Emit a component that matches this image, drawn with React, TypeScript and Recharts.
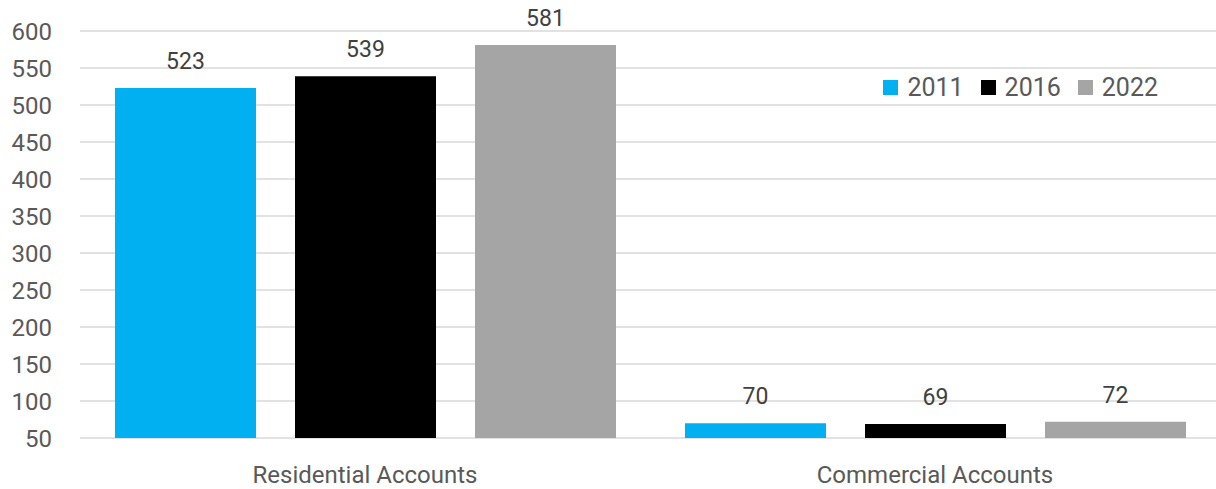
import { Bar, BarChart, CartesianGrid, LabelList, XAxis, YAxis } from "recharts";

const CATEGORIES = ["Residential Accounts", "Commercial Accounts"];
const SERIES_2011 = [523, 70];
const SERIES_2016 = [539, 69];
const SERIES_2022 = [581, 72];
const Y_TICKS = [50, 100, 150, 200, 250, 300, 350, 400, 450, 500, 550, 600];

const COLORS = {
  y2011: "#00B0F0",
  y2016: "#000000",
  y2022: "#A5A5A5",
  grid: "#D9D9D9",
  axisText: "#595959",
  label: "#404040",
};

const FONT = "Roboto, 'Noto Sans', sans-serif";

const data = CATEGORIES.map((name, i) => ({
  name,
  "2011": SERIES_2011[i],
  "2016": SERIES_2016[i],
  "2022": SERIES_2022[i],
}));

const LEGEND_ITEMS = [
  { key: "2011", color: COLORS.y2011 },
  { key: "2016", color: COLORS.y2016 },
  { key: "2022", color: COLORS.y2022 },
];

function ChartLegend() {
  return (
    <div
      style={{
        position: "absolute",
        top: 73,
        right: 58,
        display: "flex",
        alignItems: "center",
        fontFamily: FONT,
        fontSize: 25,
        color: COLORS.axisText,
      }}
    >
      {LEGEND_ITEMS.map((item) => (
        <div key={item.key} style={{ display: "flex", alignItems: "center", marginLeft: 17 }}>
          <span style={{ width: 15, height: 15, background: item.color, display: "inline-block", marginRight: 9 }} />
          <span>{item.key}</span>
        </div>
      ))}
    </div>
  );
}

function XTick({ x, y, payload }: any) {
  return (
    <text x={x} y={y + 37} textAnchor="middle" fill={COLORS.axisText} fontFamily={FONT} fontSize={24}>
      {payload.value}
    </text>
  );
}

export default function App() {
  return (
    <div
      style={{
        position: "absolute",
        left: 0,
        top: 0,
        width: 1216,
        height: 489,
        overflow: "hidden",
        background: "#fff",
      }}
    >
      <BarChart
        width={1220}
        height={489}
        data={data}
        margin={{ top: 31, right: 0, left: 0, bottom: 0 }}
        barSize={141}
        barGap={39}
      >
        <CartesianGrid vertical={false} stroke={COLORS.grid} strokeWidth={1.5} />
        <XAxis dataKey="name" height={51} axisLine={false} tickLine={false} tick={<XTick />} interval={0} />
        <YAxis
          width={80}
          domain={[50, 600]}
          ticks={Y_TICKS}
          axisLine={false}
          tickLine={false}
          tick={{ fill: COLORS.axisText, fontSize: 24, fontFamily: FONT }}
          tickMargin={22}
        />
        <Bar dataKey="2011" fill={COLORS.y2011} isAnimationActive={false}>
          <LabelList dataKey="2011" position="top" offset={19} fill={COLORS.label} fontSize={23} fontFamily={FONT} />
        </Bar>
        <Bar dataKey="2016" fill={COLORS.y2016} isAnimationActive={false}>
          <LabelList dataKey="2016" position="top" offset={19} fill={COLORS.label} fontSize={23} fontFamily={FONT} />
        </Bar>
        <Bar dataKey="2022" fill={COLORS.y2022} isAnimationActive={false}>
          <LabelList dataKey="2022" position="top" offset={19} fill={COLORS.label} fontSize={23} fontFamily={FONT} />
        </Bar>
      </BarChart>
      <ChartLegend />
    </div>
  );
}
